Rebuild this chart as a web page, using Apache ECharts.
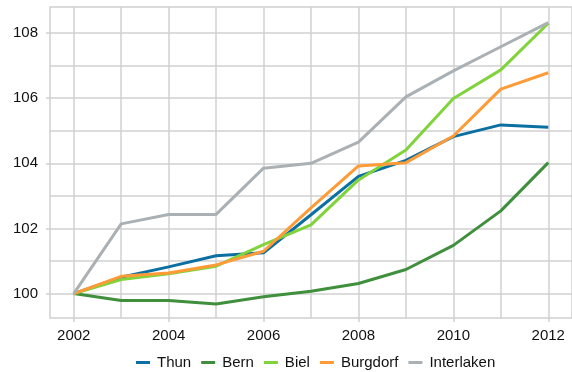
<!DOCTYPE html>
<html><head><meta charset="utf-8">
<script src="https://cdn.jsdelivr.net/npm/echarts@6/dist/echarts.min.js"></script>
<style>html,body{margin:0;padding:0;background:#fff}#c{width:572px;height:372px}</style>
</head><body><div id="c"></div>
<script>
const years = [2002,2003,2004,2005,2006,2007,2008,2009,2010,2011,2012];
const thun       = [100,100.50,100.82,101.16,101.25,102.42,103.60,104.09,104.82,105.18,105.11];
const bern       = [100, 99.79, 99.79, 99.68, 99.90,100.07,100.31,100.74,101.48,102.54,104.02];
const biel       = [100,100.43,100.61,100.84,101.50,102.11,103.49,104.41,105.99,106.87,108.30];
const burgdorf   = [100,100.53,100.63,100.88,101.30,102.63,103.92,104.02,104.84,106.28,106.78];
const interlaken = [100,102.14,102.43,102.43,103.85,104.00,104.65,106.04,106.84,107.58,108.32];
const seriesNames = ['Thun','Bern','Biel','Burgdorf','Interlaken'];
const seriesData = [thun,bern,biel,burgdorf,interlaken];
const colors = ['#0b6fa2','#3f8f3d','#80d33b','#ff9b37','#aab0b4'];
const xLabelYears = [2002,2004,2006,2008,2010,2012];
const yGridValues = [100,101,102,103,104,105,106,107,108];
const yLabelValues = [100,102,104,106,108];

const gridColor = '#d0d0d0';
const font = 'Liberation Sans, Arial, Helvetica, sans-serif';
const chart = echarts.init(document.getElementById('c'), null, {renderer:'canvas'});
const xBase = {type:'value', min:2001.5, max:2012.5, position:'bottom', axisLine:{show:false}};
const yBase = {type:'value', min:99.25, max:108.8, position:'left', axisLine:{show:false}};
chart.setOption({
  animation:false,
  color: colors,
  grid:{left:50, right:-1, top:7, bottom:54, show:true, borderColor:gridColor, borderWidth:1.5},
  xAxis:[
    Object.assign({}, xBase, {axisTick:{show:false, customValues:years}, axisLabel:{show:false, customValues:years},
      splitLine:{show:true, lineStyle:{color:gridColor, width:1.5}}}),
    Object.assign({}, xBase, {axisTick:{show:true, customValues:xLabelYears, length:4, lineStyle:{color:gridColor, width:1.5}},
      axisLabel:{show:true, customValues:xLabelYears, margin:10, color:'#111', fontSize:15, fontFamily:font, formatter:v=>String(v)},
      splitLine:{show:false}})
  ],
  yAxis:[
    Object.assign({}, yBase, {axisTick:{show:false, customValues:yGridValues}, axisLabel:{show:false, customValues:yGridValues},
      splitLine:{show:true, lineStyle:{color:gridColor, width:1.5}}}),
    Object.assign({}, yBase, {axisTick:{show:true, customValues:yLabelValues, length:4, lineStyle:{color:gridColor, width:1.5}},
      axisLabel:{show:true, customValues:yLabelValues, margin:12, color:'#111', fontSize:15, fontFamily:font, formatter:v=>String(v)},
      splitLine:{show:false}})
  ],
  legend:{
    left:136, top:355, padding:0, itemWidth:14, itemHeight:3, itemGap:10, icon:'rect',
    textStyle:{fontSize:15, color:'#111', fontFamily:font, padding:[0,0,0,2]},
    data: seriesNames
  },
  series: seriesNames.map((n,i)=>({
    name:n, type:'line', xAxisIndex:0, yAxisIndex:0, showSymbol:false, symbol:'none',
    lineStyle:{width:3, color:colors[i]}, itemStyle:{color:colors[i]},
    data: years.map((y,j)=>[y, seriesData[i][j]])
  }))
});
</script></body></html>
